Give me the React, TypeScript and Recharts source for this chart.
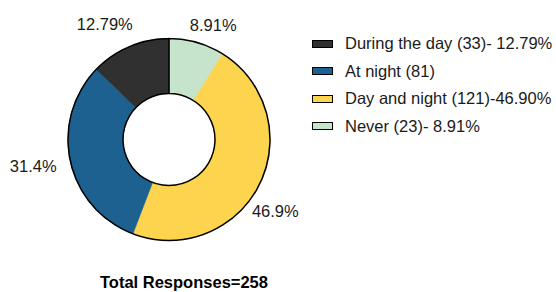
import { PieChart, Pie, Cell, Legend } from 'recharts';

// slices in drawing order, clockwise from 12 o'clock
const categories = ['Never', 'Day and night', 'At night', 'During the day'];
const counts = [23, 121, 81, 33];
const pctLabels = ['8.91%', '46.9%', '31.4%', '12.79%'];
const colors = ['#c6e4cc', '#fcd44e', '#1c6190', '#303030'];

// legend text, top to bottom
const legendOrder = ['During the day', 'At night', 'Day and night', 'Never'];
const legendLabels = [
  'During the day (33)- 12.79%',
  'At night (81)',
  'Day and night (121)-46.90%',
  'Never (23)- 8.91%',
];

const totalLabel = 'Total Responses=258';

const data = categories.map((name, i) => ({ name, value: counts[i] }));
const ring = [{ name: 'ring', value: 1 }];

const FONT = '"Liberation Sans", Arial, sans-serif';
const RADIAN = Math.PI / 180;

// label placement tweaks (angle shift in deg, distance as factor of outer radius)
const labelShift = [-5, -7.5, -1.5, 6];
const labelDist = [1.22, 1.27, 1.37, 1.31];

const renderLabel = (props: any) => {
  const { cx, cy, midAngle, outerRadius, index } = props;
  const a = (midAngle + labelShift[index]) * RADIAN;
  const r = outerRadius * labelDist[index];
  const x = cx + r * Math.cos(a);
  const y = cy - r * Math.sin(a);
  return (
    <text
      x={x}
      y={y}
      textAnchor="middle"
      dominantBaseline="central"
      fill="#1a1a1a"
      fontSize={16.5}
      fontFamily={FONT}
    >
      {pctLabels[index]}
    </text>
  );
};

const renderLegend = () => (
  <div style={{ fontFamily: FONT, fontSize: 16.5, color: '#1a1a1a' }}>
    {legendOrder.map((name, i) => (
      <div
        key={name}
        style={{ display: 'flex', alignItems: 'center', height: 27.5 }}
      >
        <span
          style={{
            display: 'inline-block',
            width: 19,
            height: 6,
            background: colors[categories.indexOf(name)],
            border: '1px solid #000',
            marginRight: 12,
          }}
        />
        <span>{legendLabels[i]}</span>
      </div>
    ))}
  </div>
);

export default function App() {
  return (
    <div style={{ position: 'absolute', left: 0, top: 0, width: 556, height: 292, background: '#fff' }}>
      <PieChart width={556} height={292} margin={{ top: 0, right: 0, bottom: 0, left: 0 }}>
        <Pie
          data={data}
          dataKey="value"
          cx={169}
          cy={139.5}
          innerRadius={46}
          outerRadius={101}
          startAngle={90}
          endAngle={-270}
          label={renderLabel}
          labelLine={false}
          isAnimationActive={false}
        >
          {data.map((d, i) => (
            <Cell key={d.name} fill={colors[i]} stroke={colors[i]} strokeWidth={0.6} />
          ))}
        </Pie>
        <Pie
          data={ring}
          dataKey="value"
          cx={169}
          cy={139.5}
          innerRadius={46}
          outerRadius={101}
          startAngle={90}
          endAngle={-270}
          fill="none"
          stroke="#000"
          strokeWidth={1.5}
          isAnimationActive={false}
          legendType="none"
        />
        <Legend
          layout="vertical"
          verticalAlign="top"
          align="right"
          content={renderLegend}
          wrapperStyle={{ left: 312, top: 30, width: 244 }}
        />
      </PieChart>
      <div
        style={{
          position: 'absolute',
          left: 100,
          top: 273,
          fontFamily: FONT,
          fontSize: 16.5,
          fontWeight: 'bold',
          color: '#000',
          whiteSpace: 'nowrap',
        }}
      >
        {totalLabel}
      </div>
    </div>
  );
}
